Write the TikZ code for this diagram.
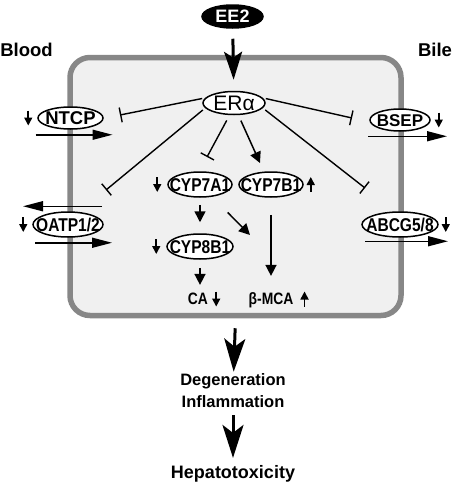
\documentclass[tikz,border=0pt]{standalone}
\usepackage{fontspec}
\setmainfont{Liberation Sans}
\newfontfamily\narrowsf{Liberation Sans}[FakeStretch=0.84]
\usepackage{tikz}
\usetikzlibrary{arrows.meta,positioning,calc,shapes.geometric}
\definecolor{membrane}{HTML}{878787}
\definecolor{cytosol}{HTML}{F0F0F0}
% label in a zero-width box, so the ellipse keeps the size we give it
\newcommand{\inell}[1]{\makebox[0pt]{\raisebox{-.36em}[0pt][0pt]{#1}}}
\newcommand{\lvdn}[1]{\draw[lev] ($#1+(0,-7.5)$) -- ++(0,15);}
\newcommand{\lvup}[1]{\draw[lev] ($#1+(0,7.5)$) -- ++(0,-15);}

\begin{document}
\begin{tikzpicture}[x=1pt, y=-1pt,
  cell/.style={draw=membrane, fill=cytosol, line width=5.5pt, rounded corners=20pt,
               minimum width=331pt, minimum height=258pt},
  prot/.style={draw, ellipse, fill=white, line width=1.5pt, inner sep=0pt,
               minimum width=#1, minimum height=22pt,
               font=\fontsize{18.5}{20}\selectfont\bfseries},
  narrow/.style={prot=#1, minimum height=25pt,
                 font=\narrowsf\fontsize{18.5}{20}\selectfont\bfseries},
  metab/.style={inner sep=2pt, text height=11.8pt, text depth=0pt,
                font=\narrowsf\fontsize{16.5}{18}\selectfont\bfseries},
  side/.style={font=\fontsize{18.5}{20}\selectfont\bfseries},
  effect/.style={inner sep=0pt, align=center, font=\fontsize{16.5}{22}\selectfont\bfseries},
  bigarr/.style={line width=3pt, -{Stealth[length=33pt, width=21pt, inset=8pt]}},
  sarr/.style={line width=1.5pt, -{Triangle[length=11pt, width=11pt]}},
  inh/.style={line width=1.4pt, -{Bar[width=15pt, line width=1.4pt]}},
  tr/.style={line width=1.5pt, -{Triangle[length=20pt, width=10pt]}},
  lev/.style={line width=1.6pt, -{Triangle[length=8pt, width=8pt]}}]
\useasboundingbox (0,0) rectangle (453,482);

% hepatocyte
\node[cell] (cell) at (235.5,186.5) {};
\node[side] (blood) at (26.5,50) {Blood};
\node[side] (bile) at (435,50) {Bile};

% receptor and targets
\node[prot=61pt, minimum height=23pt, fill=black, text=white,
      font=\fontsize{18}{19}\selectfont\bfseries] (ee2) at (232.5,16.5) {\inell{EE2}};
\node[prot=62pt, minimum height=23pt, font=\fontsize{21}{23}\selectfont] (er) at (234,103) {\inell{ERα}};
\node[prot=65pt] (ntcp) at (70.5,118) {\inell{NTCP}};
\node[narrow=70pt] (oatp) at (68,224.5) {\inell{OATP1/2}};
\node[prot=60pt, font=\fontsize{17}{19}\selectfont\bfseries] (bsep) at (400,120) {\inell{BSEP}};
\node[narrow=76pt] (abcg) at (400,224.5) {\inell{ABCG5/8}};
\node[narrow=64pt] (c7a1) at (200,184.5) {\inell{CYP7A1}};
\node[narrow=64pt, right=5.5pt of c7a1] (c7b1) {\inell{CYP7B1}};
\node[narrow=66pt, below=35.5pt of c7a1] (c8b1) {\inell{CYP8B1}};
\node[metab] (ca) at (198,299) {CA};
\node[metab] (bmca) at (271,299) {β-MCA};

% outcome
\node[effect] (deg) at (233,391) {Degeneration\\Inflammation};
\node[effect, font=\fontsize{18}{20}\selectfont\bfseries] (hep) at (233,473.5) {Hepatotoxicity};

\coordinate (ntcpbar) at (120,115);
\coordinate (bsepbar) at (352,118);
\coordinate (oatpbar) at (106,190);
\coordinate (c7abar) at (207,157);
\coordinate (abcgbar) at (365,188);
\coordinate (c7btip) at (260,163);
\coordinate (mcatip) at (250,235);

\draw[bigarr, -{Stealth[length=28pt, width=18pt, inset=6pt]},
      shorten <=10pt, shorten >=11pt] (ee2) -- (er);
\draw[inh, shorten <=3pt] (er.170) -- (ntcpbar);
\draw[inh, shorten <=3pt] (er.10) -- (bsepbar);
\draw[inh, shorten <=3pt] (er.190) -- (oatpbar);
\draw[inh, shorten <=6pt] (er.250) -- (c7abar);
\draw[sarr, shorten <=6pt] (er.290) -- (c7btip);
\draw[inh, shorten <=3pt] (er.350) -- (abcgbar);

% bile acid synthesis
\draw[sarr, shorten <=7pt, shorten >=11pt] (c7a1) -- (c8b1);
\draw[sarr, shorten <=22pt] (c7a1) -- (mcatip);
\draw[sarr, shorten <=17pt, shorten >=15pt] (c7b1) -- (c7b1 |- bmca.north);
\draw[sarr, shorten <=8pt, shorten >=6pt] (c8b1) -- (c8b1 |- ca.north);

% transport across the membranes
\draw[tr] ($(ntcp.south)+(-35,5)$) -- ++(77,0);
\draw[tr] ($(oatp.north)+(34,-5)$) -- ++(-79,0);
\draw[tr] ($(oatp.south)+(-33,5)$) -- ++(77,0);
\draw[tr] ($(bsep.south)+(-32,4.5)$) -- ++(79,0);
\draw[tr] ($(abcg.south)+(-35,3.5)$) -- ++(83,0);

% up / down
\lvdn{(ntcp.west)+(-9,0)}
\lvdn{(oatp.west)+(-9,0)}
\lvdn{(bsep.east)+(8,0)}
\lvdn{(abcg.east)+(7,0)}
\lvdn{(c7a1.west)+(-10,0)}
\lvup{(c7b1.east)+(7,0)}
\lvdn{(c8b1.west)+(-10,0)}
\lvdn{(ca.east)+(6,0)}
\lvup{(bmca.east)+(9,0)}

\draw[bigarr, shorten <=10pt, shorten >=2pt] (cell.south) -- (deg);
\draw[bigarr, shorten <=7pt, shorten >=7pt] (deg) -- (hep);
\end{tikzpicture}
\end{document}
